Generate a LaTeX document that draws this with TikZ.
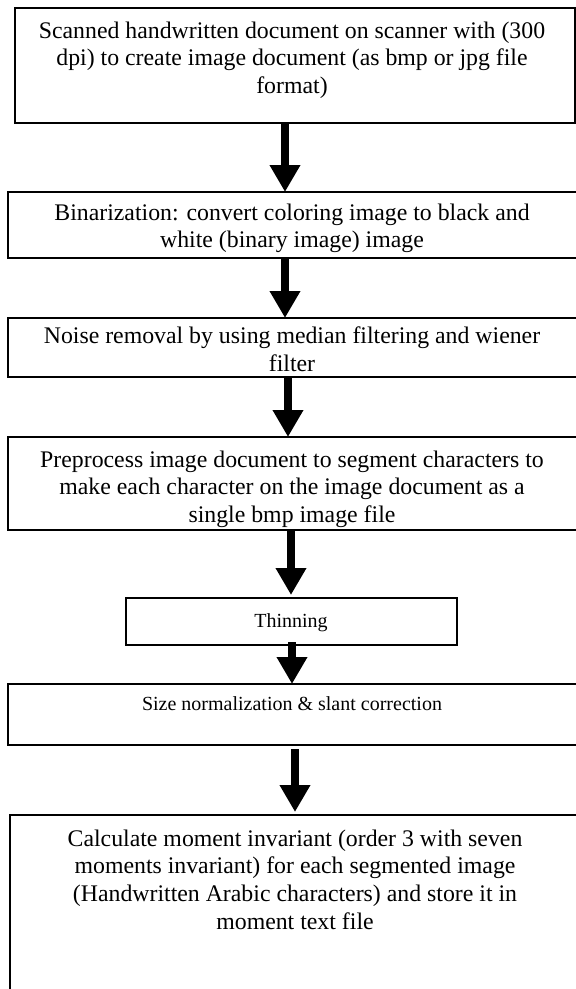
\documentclass[tikz,border=0pt]{standalone}
\usepackage{fontspec}
\setmainfont{Liberation Serif}
\usetikzlibrary{arrows.meta}
\begin{document}
\begin{tikzpicture}[x=1pt,y=-1pt,
  box/.style={draw=black, line width=1.1pt, inner sep=0pt, outer sep=0pt, anchor=north west},
  txt/.style={font=\fontsize{23.8}{27.6}\selectfont, align=center, inner sep=0pt, anchor=north},
  stxt/.style={font=\fontsize{20}{23}\selectfont, align=center, inner sep=0pt, anchor=north},
  flow/.style={line width=8.5pt, -{Triangle[width=29pt,length=27pt]}}]
\useasboundingbox (0,0) rectangle (576,989);
\fill[white] (0,0) rectangle (576,989);

% boxes
\node[box, minimum width=560pt, minimum height=115pt] (b1) at (15,8) {};
\node[box, minimum width=570pt, minimum height=66pt]  (b2) at (8,192) {};
\node[box, minimum width=570pt, minimum height=59pt]  (b3) at (8,318) {};
\node[box, minimum width=570pt, minimum height=93pt]  (b4) at (8,437) {};
\node[box, minimum width=331pt, minimum height=47pt]  (b5) at (126,598) {};
\node[box, minimum width=570pt, minimum height=61pt]  (b6) at (8,684) {};
\node[box, minimum width=568pt, minimum height=190pt] (b7) at (10,815) {};

% texts
\node[txt] (t1) at (292,21.5) {Scanned handwritten document on scanner with (300\\dpi) to create image document (as bmp or jpg file\\format)};
\node[txt] (t2) at (292,203.5) {Binarization: convert coloring image to black and\\white (binary image) image};
\node[txt] (t3) at (292,326.5) {Noise removal by using median filtering and wiener\\filter};
\node[txt] (t4) at (292,450.5) {Preprocess image document to segment characters to\\make each character on the image document as a\\single bmp image file};
\node[stxt] (t5) at (291,613.5) {Thinning};
\node[stxt] (t6) at (292,696.5) {Size normalization \& slant correction};
\node[txt] (t7) at (295,829.5) {Calculate moment invariant (order 3 with seven\\moments invariant) for each segmented image\\(Handwritten Arabic characters) and store it in\\moment text file};

% arrow columns
\coordinate (c1) at (285,0);
\coordinate (c2) at (285,0);
\coordinate (c3) at (288,0);
\coordinate (c4) at (291,0);
\coordinate (c5) at (292,0);
\coordinate (c6) at (295,0);

% connectors
\draw[flow] (b1.south -| c1) -- (b2.north -| c1);
\draw[flow] (b2.south -| c2) -- (b3.north -| c2);
\draw[flow] (b3.south -| c3) -- (b4.north -| c3);
\draw[flow, shorten >=3pt] (b4.south -| c4) -- (b5.north -| c4);
\draw[flow, shorten <=-3pt] (b5.south -| c5) -- (b6.north -| c5);
\draw[flow, shorten <=4pt, shorten >=3pt] (b6.south -| c6) -- (b7.north -| c6);
\end{tikzpicture}
\end{document}
